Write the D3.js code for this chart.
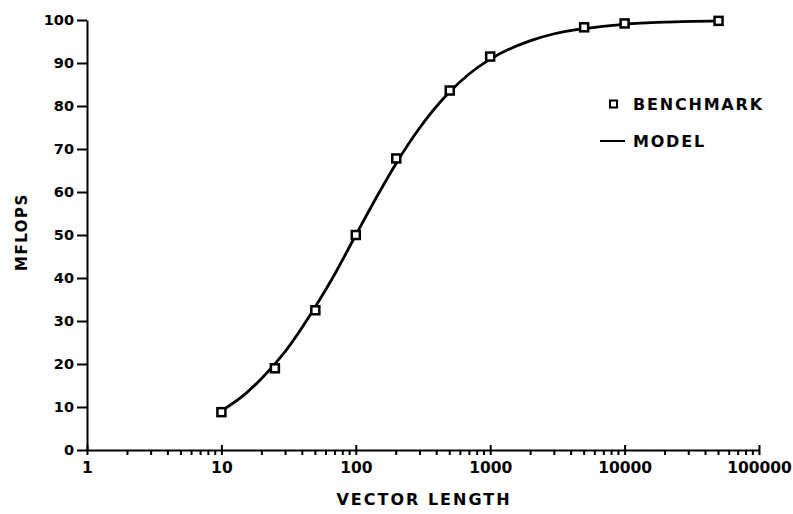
<!DOCTYPE html>
<html>
<head>
<meta charset="utf-8">
<script src="https://cdn.jsdelivr.net/npm/d3@7"></script>
<style>
  body { margin: 0; background: #fff; }
  text { font-family: "DejaVu Sans", sans-serif; font-weight: bold; fill: #000; }
</style>
</head>
<body>
<svg width="793" height="514"></svg>
<script>
// benchmark points
var benchLength = [10, 25, 50, 100, 200, 500, 1000, 5000, 10000, 50000];
var benchMflops = [8.8, 19, 32.5, 50, 67.8, 83.6, 91.5, 98.3, 99.2, 99.8];

// model curve, sampled off the drawn line
var modelLength = [10, 15, 20, 30, 50, 70, 100, 150, 200, 300, 500, 700, 1000, 2000, 3000, 5000, 10000, 20000, 50000];
var modelMflops = [9.1, 13, 16.7, 23, 33.3, 41, 50, 60, 66.7, 75, 83.3, 87.5, 90.9, 95.2, 96.8, 98, 99, 99.5, 99.8];

var yTicks = [0, 10, 20, 30, 40, 50, 60, 70, 80, 90, 100];
var xDecades = [1, 10, 100, 1000, 10000, 100000];

var svg = d3.select("svg"),
  margin = { top: 20, right: 34, bottom: 64, left: 87 },
  width = +svg.attr("width") - margin.left - margin.right,
  height = +svg.attr("height") - margin.top - margin.bottom,
  g = svg.append("g")
    .attr("transform", "translate(" + margin.left + "," + margin.top + ")");

var x = d3.scaleLog().domain([1, 100000]).range([0, width]);
var y = d3.scaleLinear().domain([0, 100]).range([height, 0]);

// y axis
var yAxis = g.append("g")
  .call(d3.axisLeft(y).tickValues(yTicks).tickSize(10).tickSizeOuter(0).tickPadding(3));
yAxis.select(".domain").attr("stroke-width", 2);
yAxis.selectAll(".tick line").attr("stroke-width", 2);
yAxis.selectAll(".tick text").style("font-size", "14.5px");

// x axis: minor ticks for 2..9 in every decade
var minor = [];
xDecades.slice(0, -1).forEach(function(d) {
  for (var k = 2; k <= 9; k++) minor.push(d * k);
});
var xAxis = g.append("g")
  .attr("transform", "translate(0," + height + ")")
  .call(d3.axisBottom(x).tickValues(xDecades).tickSize(0).tickSizeOuter(0)
    .tickPadding(12).tickFormat(d3.format("d")));
xAxis.select(".domain").attr("stroke-width", 2);
xAxis.selectAll(".tick text").style("font-size", "15.5px");
xAxis.selectAll(".tick line").attr("y1", -5).attr("y2", 5).attr("stroke-width", 2);

g.append("g")
  .attr("transform", "translate(0," + height + ")")
  .selectAll("line")
  .data(minor)
  .enter()
  .append("line")
  .attr("x1", function(d) { return x(d); })
  .attr("x2", function(d) { return x(d); })
  .attr("y1", 0)
  .attr("y2", 5)
  .attr("stroke", "#000")
  .attr("stroke-width", 2);

// titles
svg.append("text")
  .attr("transform", "translate(" + 27 + "," + 232 + ") rotate(-90)")
  .attr("text-anchor", "middle")
  .style("font-size", "15px")
  .style("letter-spacing", "1.5px")
  .text("MFLOPS");

svg.append("text")
  .attr("x", 424)
  .attr("y", 505)
  .attr("text-anchor", "middle")
  .style("font-size", "16px")
  .style("letter-spacing", "2px")
  .text("VECTOR LENGTH");

// model line
var model = modelLength.map(function(d, i) { return { n: d, r: modelMflops[i] }; });
var line = d3.line()
  .x(function(d) { return x(d.n); })
  .y(function(d) { return y(d.r); })
  .curve(d3.curveMonotoneX);

g.append("path")
  .datum(model)
  .attr("fill", "none")
  .attr("stroke", "#000")
  .attr("stroke-width", 2.8)
  .attr("d", line);

// benchmark squares
var bench = benchLength.map(function(d, i) { return { n: d, r: benchMflops[i] }; });
var s = 8;
g.selectAll(".bench")
  .data(bench)
  .enter()
  .append("rect")
  .attr("class", "bench")
  .attr("x", function(d) { return x(d.n) - s / 2; })
  .attr("y", function(d) { return y(d.r) - s / 2; })
  .attr("width", s)
  .attr("height", s)
  .attr("fill", "#fff")
  .attr("stroke", "#000")
  .attr("stroke-width", 2.5);

// legend
var legend = svg.append("g").attr("transform", "translate(600,104)");
legend.append("rect")
  .attr("x", 10).attr("y", -3.5)
  .attr("width", 7).attr("height", 7)
  .attr("fill", "#fff").attr("stroke", "#000").attr("stroke-width", 2);
legend.append("text")
  .attr("x", 33).attr("y", 6)
  .style("font-size", "16px")
  .style("letter-spacing", "1.8px")
  .text("BENCHMARK");
legend.append("line")
  .attr("x1", 0).attr("x2", 25).attr("y1", 37).attr("y2", 37)
  .attr("stroke", "#000").attr("stroke-width", 2);
legend.append("text")
  .attr("x", 33).attr("y", 43)
  .style("font-size", "16px")
  .style("letter-spacing", "1.8px")
  .text("MODEL");
</script>
</body>
</html>
